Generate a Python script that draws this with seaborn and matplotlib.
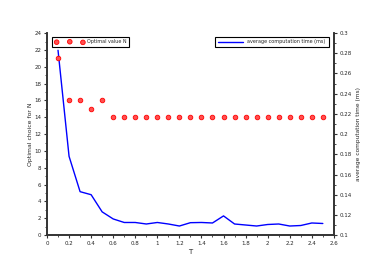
import numpy as np
import pandas as pd
import matplotlib
matplotlib.use("Agg")
import matplotlib.pyplot as plt
import seaborn as sns
from matplotlib.ticker import MultipleLocator

# data
T = [0.1, 0.2, 0.3, 0.4, 0.5, 0.6, 0.7, 0.8, 0.9, 1.0, 1.1, 1.2, 1.3,
     1.4, 1.5, 1.6, 1.7, 1.8, 1.9, 2.0, 2.1, 2.2, 2.3, 2.4, 2.5]
optimal_n = [21, 16, 16, 15, 16, 14, 14, 14, 14, 14, 14, 14, 14,
             14, 14, 14, 14, 14, 14, 14, 14, 14, 14, 14, 14]
avg_time = [0.283, 0.178, 0.143, 0.140, 0.123, 0.116, 0.1125, 0.1125, 0.111,
            0.1125, 0.111, 0.109, 0.1123, 0.1125, 0.112, 0.119, 0.111, 0.110,
            0.109, 0.1105, 0.111, 0.109, 0.1095, 0.112, 0.1115]

df = pd.DataFrame({"T": T, "N": optimal_n, "time": avg_time})

sns.set_style("white")
plt.rcParams["font.family"] = ["DejaVu Sans"]
plt.rcParams["font.size"] = 4

fig = plt.figure(figsize=(3.82, 2.69), dpi=100)
ax = fig.add_axes([0.123, 0.126, 0.751, 0.751])
ax2 = ax.twinx()
# points on top of the line
ax.set_zorder(ax2.get_zorder() + 1)
ax.patch.set_visible(False)

sns.scatterplot(data=df, x="T", y="N", ax=ax, color="#ff5050", s=11,
                edgecolor="red", linewidth=0.6,
                label="Optimal value N", legend=False)
ax.set_xlim(0, 2.6)
ax.set_ylim(0, 24)
ax.xaxis.set_major_locator(MultipleLocator(0.2))
ax.xaxis.set_minor_locator(MultipleLocator(0.1))
ax.yaxis.set_major_locator(MultipleLocator(2))
ax.yaxis.set_minor_locator(MultipleLocator(1))
ax.xaxis.set_major_formatter(plt.FuncFormatter(lambda v, p: f"{v:g}"))
ax.set_xlabel("T", fontsize=5, labelpad=2.5)
ax.set_ylabel("Optimal choice for N", fontsize=4.4, labelpad=1)

sns.lineplot(data=df, x="T", y="time", ax=ax2, color="blue", linewidth=1,
             label="average computation time (ms)", legend=False)
ax2.set_ylim(0.1, 0.3)
ax2.yaxis.set_major_locator(MultipleLocator(0.02))
ax2.yaxis.set_minor_locator(MultipleLocator(0.01))
ax2.yaxis.set_major_formatter(plt.FuncFormatter(lambda v, p: f"{v:g}"))
ax2.set_ylabel("average computation time (ms)", fontsize=4.2, labelpad=3)
ax2.set_xlabel("")

for a in (ax, ax2):
    a.spines["top"].set_visible(False)
    for s in ("left", "right", "bottom"):
        a.spines[s].set_linewidth(1.2)
        a.spines[s].set_color("#333333")
    a.tick_params(which="major", direction="out", length=2.5, width=0.8,
                  labelsize=4, pad=1.5, color="#333333")
    a.tick_params(which="minor", direction="out", length=1.5, width=0.6,
                  color="#333333")
ax.tick_params(axis="y", which="both", left=True, right=False)
ax.tick_params(axis="x", which="both", bottom=True)
ax2.tick_params(axis="y", which="both", right=True, left=False)

h1, l1 = ax.get_legend_handles_labels()
leg1 = ax.legend(h1, l1, loc="upper left", bbox_to_anchor=(0.01, 0.995),
                 fontsize=3.5, scatterpoints=3, fancybox=False,
                 edgecolor="black", framealpha=1, borderpad=0.6,
                 handlelength=6, handletextpad=0.5)
leg1.get_frame().set_linewidth(0.8)
h2, l2 = ax2.get_legend_handles_labels()
leg2 = ax2.legend(h2, l2, loc="upper right", bbox_to_anchor=(0.99, 0.995),
                  fontsize=3.5, fancybox=False, edgecolor="black",
                  framealpha=1, borderpad=0.6, handlelength=5,
                  handletextpad=1)
leg2.get_frame().set_linewidth(0.8)

plt.savefig("out.png", dpi=100)
